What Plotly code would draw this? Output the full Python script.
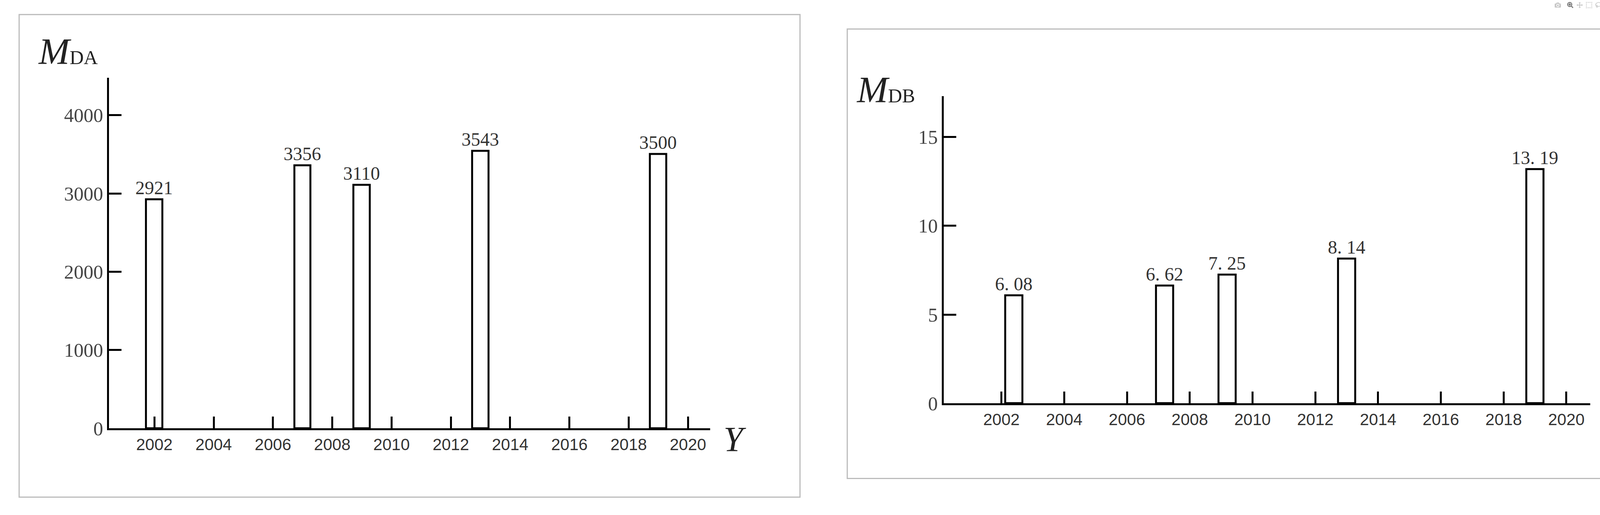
import plotly.graph_objects as go

years_a = [2002, 2007, 2009, 2013, 2019]
vals_a = [2921, 3356, 3110, 3543, 3500]
years_b = [2002.4, 2007.2, 2009.2, 2013, 2019]
vals_b = [6.08, 6.62, 7.25, 8.14, 13.19]
labels_b = ["6. 08", "6. 62", "7. 25", "8. 14", "13. 19"]
xticks = list(range(2002, 2021, 2))
yticks_a = [0, 1000, 2000, 3000, 4000]
yticks_b = [0, 5, 10, 15]

serif = "Liberation Serif"
fig = go.Figure()
fig.add_trace(go.Bar(x=years_a, y=vals_a, text=[str(v) for v in vals_a], textposition="outside",
                     width=0.55, marker=dict(color="white", line=dict(color="black", width=5)),
                     textfont=dict(family=serif, size=48, color="#333"), cliponaxis=False,
                     constraintext="none", xaxis="x", yaxis="y"))
fig.add_trace(go.Bar(x=years_b, y=vals_b, text=labels_b, textposition="outside",
                     width=0.55, marker=dict(color="white", line=dict(color="black", width=5)),
                     textfont=dict(family=serif, size=48, color="#333"), cliponaxis=False,
                     constraintext="none", xaxis="x2", yaxis="y2"))

xcommon = dict(tickmode="array", tickvals=xticks, ticks="inside", ticklen=30, tickwidth=5,
               tickcolor="black", showline=True, linewidth=5, linecolor="black", showgrid=False,
               zeroline=False, tickfont=dict(family="Liberation Sans Narrow, Liberation Sans", size=42, color="#333"))
ycommon = dict(tickmode="array", ticks="inside", ticklen=32, tickwidth=5, tickcolor="black",
               showline=True, linewidth=5, linecolor="black", showgrid=False, zeroline=False,
               tickfont=dict(family=serif, size=50, color="#444"))

fig.update_layout(
    width=4242, height=1318, margin=dict(l=0, r=0, t=0, b=0),
    paper_bgcolor="white", plot_bgcolor="white", showlegend=False, bargap=0,
    uniformtext=dict(minsize=48, mode="show"),
    xaxis=dict(domain=[0.0658, 0.4286], range=[2000.47, 2020.75], anchor="y", **xcommon),
    yaxis=dict(domain=[0.1495, 0.8460], range=[0, 4480], tickvals=yticks_a, anchor="x", **ycommon),
    xaxis2=dict(domain=[0.5695, 0.9597], range=[2000.16, 2020.76], anchor="y2", **xcommon),
    yaxis2=dict(domain=[0.1990, 0.8090], range=[0, 17.3], tickvals=yticks_b, anchor="x2", **ycommon),
    shapes=[
        dict(type="rect", xref="paper", yref="paper", x0=49/4242, x1=2048/4242,
             y0=1-1301/1318, y1=1-38/1318, line=dict(color="#bbb", width=3)),
        dict(type="rect", xref="paper", yref="paper", x0=2169/4242, x1=4193/4242,
             y0=1-1252/1318, y1=1-76/1318, line=dict(color="#bbb", width=3)),
    ],
    annotations=[
        dict(xref="paper", yref="paper", x=95/4242, y=1-135/1318, xanchor="left", yanchor="middle",
             showarrow=False, text="<i>M</i><span style='font-size:50px'>DA</span>",
             font=dict(family=serif, size=95, color="#222")),
        dict(xref="paper", yref="paper", x=1850/4242, y=1-1150/1318, xanchor="left", yanchor="middle",
             showarrow=False, text="<i>Y</i>", font=dict(family=serif, size=90, color="#222")),
        dict(xref="paper", yref="paper", x=2190/4242, y=1-235/1318, xanchor="left", yanchor="middle",
             showarrow=False, text="<i>M</i><span style='font-size:50px'>DB</span>",
             font=dict(family=serif, size=95, color="#222")),
        dict(xref="paper", yref="paper", x=4090/4242, y=1-1090/1318, xanchor="left", yanchor="middle",
             showarrow=False, text="<i>Y</i>", font=dict(family=serif, size=90, color="#222")),
    ],
)
fig.write_html("out.html", post_script="document.body.style.margin='0';document.body.style.overflow='hidden';")
